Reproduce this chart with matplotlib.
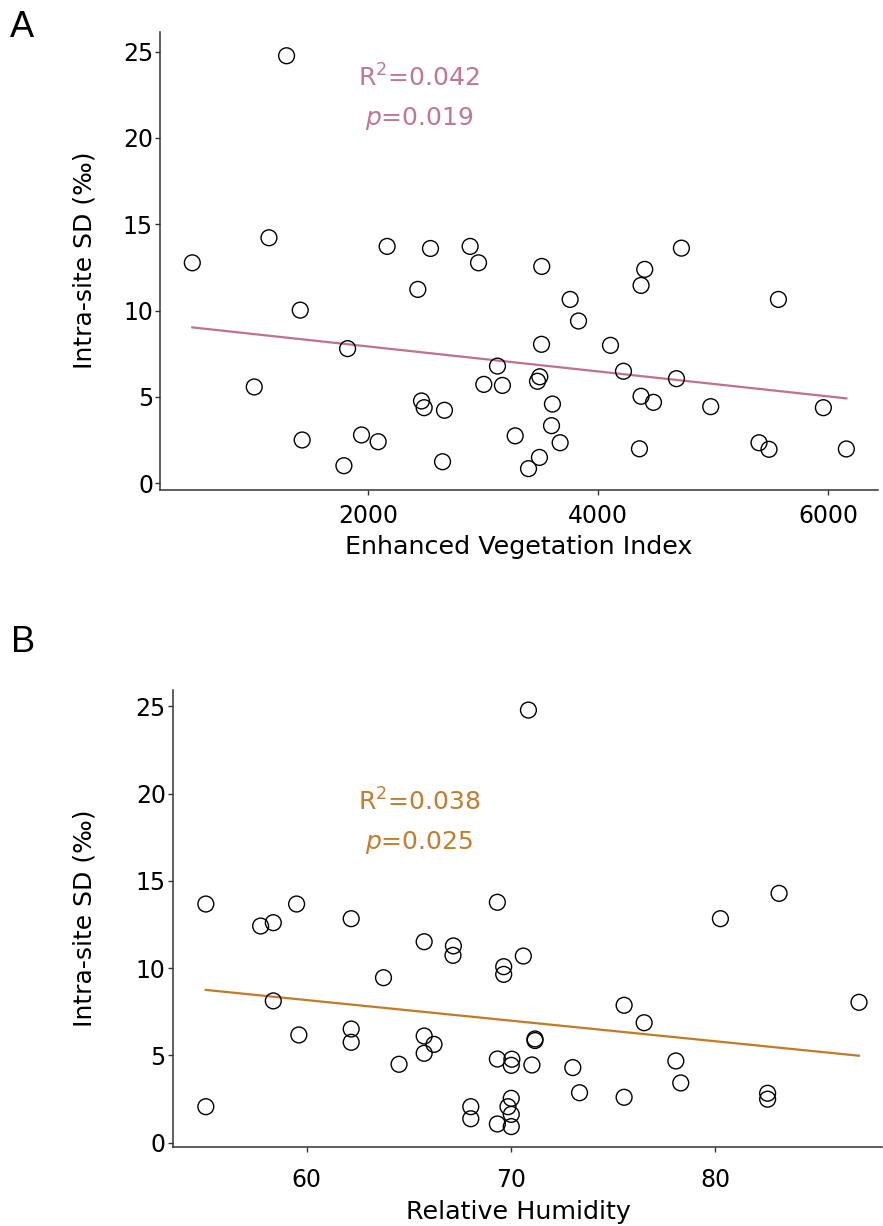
import matplotlib
matplotlib.use("Agg")
import matplotlib.pyplot as plt

plt.rcParams['font.family'] = ['DejaVu Sans']
plt.rcParams['mathtext.fontset'] = 'dejavusans'

# panel A: enhanced vegetation index vs intra-site SD
evi = [1290, 470, 1137, 1409, 1009, 1426, 2165, 2542, 2887, 2960, 2432, 1821,
       3125, 3006, 3168, 2464, 2487, 2664, 1942, 2087, 1789, 2647, 3279, 3510,
       4725, 4406, 4374, 5569, 3757, 3830, 3508, 4108, 4221, 4682, 3493, 3473,
       3603, 4374, 4482, 4980, 5960, 3595, 3670, 4360, 5400, 5487, 6160, 3490,
       3395]
sd_a = [24.76, 12.77, 14.22, 10.03, 5.58, 2.51, 13.72, 13.6, 13.72, 12.77,
        11.23, 7.8, 6.79, 5.73, 5.67, 4.77, 4.38, 4.23, 2.80, 2.41, 1.02, 1.25,
        2.75, 12.56, 13.62, 12.39, 11.46, 10.65, 10.65, 9.4, 8.05, 7.99, 6.49,
        6.06, 6.17, 5.91, 4.59, 5.04, 4.69, 4.44, 4.38, 3.34, 2.35, 2.0, 2.35,
        1.97, 1.99, 1.5, 0.85]
fit_a_x = [470, 6160]
fit_a_y = [9.03, 4.92]

# panel B: relative humidity vs intra-site SD
rh = [55.07, 55.07, 57.75, 58.37, 59.51, 58.37, 59.62, 62.18, 62.18, 62.18,
      63.76, 64.52, 65.75, 67.18, 67.16, 65.75, 66.23, 65.75, 69.33, 69.64,
      69.64, 69.33, 70.04, 70.01, 68.03, 68.03, 69.33, 70.01, 69.85, 70.01,
      70.01, 70.6, 70.85, 83.11, 80.24, 87.02, 75.53, 76.51, 71.17, 71.17,
      71.02, 73.02, 78.06, 78.3, 73.35, 75.53, 82.55, 82.55]
sd_b = [13.67, 2.06, 12.41, 12.6, 13.67, 8.12, 6.17, 12.83, 6.51, 5.75, 9.45,
        4.49, 11.51, 11.27, 10.73, 6.11, 5.63, 5.12, 13.77, 10.08, 9.64, 4.79,
        4.78, 4.43, 2.06, 1.37, 1.07, 2.54, 2.06, 1.62, 0.92, 10.69, 24.78,
        14.28, 12.83, 8.04, 7.87, 6.87, 5.94, 5.85, 4.45, 4.3, 4.68, 3.42,
        2.86, 2.6, 2.83, 2.49]
fit_b_x = [55.07, 87.02]
fit_b_y = [8.75, 4.98]

fig = plt.figure(figsize=(8.83, 12.26), dpi=100)
axA = fig.add_axes([0.1812, 0.6007, 0.8131, 0.3734])
axB = fig.add_axes([0.1956, 0.0647, 0.8034, 0.3725])

def style(ax, xpad):
    for s in ['top', 'right']:
        ax.spines[s].set_visible(False)
    for s in ['left', 'bottom']:
        ax.spines[s].set_color('#333333')
        ax.spines[s].set_linewidth(1.1)
    ax.tick_params(axis='both', length=3.5, width=1.0, color='#333333',
                   labelsize=17, labelcolor='black')
    ax.tick_params(axis='y', pad=1.5)
    ax.tick_params(axis='x', pad=xpad)
    ax.set_yticks([0, 5, 10, 15, 20, 25])

# panel A
axA.scatter(evi, sd_a, s=130, facecolors='none', edgecolors='black', linewidths=1.0, zorder=3)
axA.plot(fit_a_x, fit_a_y, color='#c0718f', lw=1.6, zorder=2)
axA.set_xlim(189, 6435)
axA.set_ylim(-0.36, 26.15)
axA.set_xticks([2000, 4000, 6000])
style(axA, 7)
axA.set_xlabel('Enhanced Vegetation Index', fontsize=18.3)
axA.set_ylabel('Intra-site SD (‰)', fontsize=18)
axA.xaxis.set_label_coords(0.5, -0.099)
axA.yaxis.set_label_coords(-0.088, 0.5)
axA.text(0.3607, 0.899, 'R$^2$=0.042', transform=axA.transAxes, ha='center', va='center',
         fontsize=18, color='#c27693')
axA.text(0.3607, 0.8115, '$p$=0.019', transform=axA.transAxes, ha='center', va='center',
         fontsize=18, color='#c27693')
fig.text(0.011, 0.992, 'A', fontsize=26, family='Liberation Sans', va='top', ha='left')

# panel B
axB.scatter(rh, sd_b, s=130, facecolors='none', edgecolors='black', linewidths=1.0, zorder=3)
axB.plot(fit_b_x, fit_b_y, color='#c47a22', lw=1.6, zorder=2)
axB.set_xlim(53.45, 88.15)
axB.set_ylim(-0.23, 25.93)
axB.set_xticks([60, 70, 80])
style(axB, 12)
axB.set_xlabel('Relative Humidity', fontsize=18.3)
axB.set_ylabel('Intra-site SD (‰)', fontsize=18)
axB.xaxis.set_label_coords(0.488, -0.117)
axB.yaxis.set_label_coords(-0.107, 0.5)
axB.text(0.348, 0.7554, 'R$^2$=0.038', transform=axB.transAxes, ha='center', va='center',
         fontsize=18, color='#c47d2c')
axB.text(0.348, 0.665, '$p$=0.025', transform=axB.transAxes, ha='center', va='center',
         fontsize=18, color='#c47d2c')
fig.text(0.013, 0.490, 'B', fontsize=26, family='Liberation Sans', va='top', ha='left')

fig.savefig('out.png', dpi=100)
